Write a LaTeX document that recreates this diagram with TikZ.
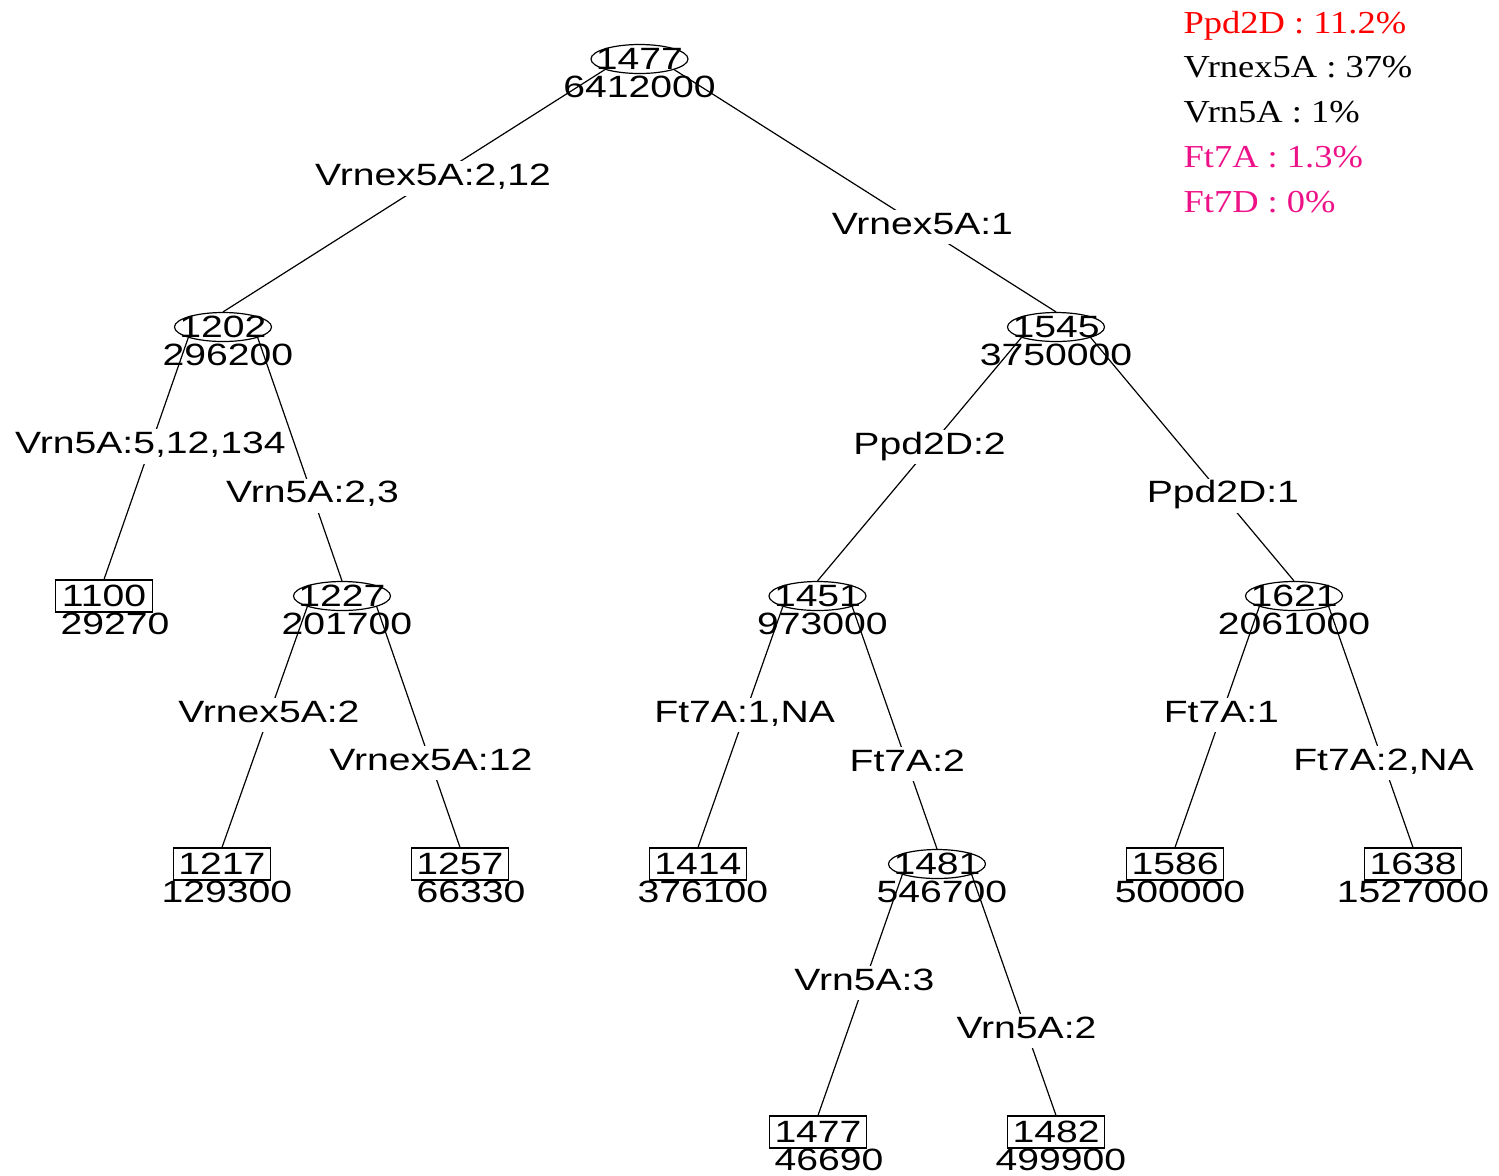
\documentclass[tikz,border=0pt]{standalone}
\usepackage{fontspec}
\usepackage{xcolor}
\usetikzlibrary{shapes.geometric}
\newfontfamily\treefont[FakeStretch=1.27]{Liberation Sans}
\newfontfamily\legfont[FakeStretch=1.14]{Liberation Serif}
\definecolor{cP}{HTML}{EE1289}
\tikzset{
  split/.style={draw,ellipse,minimum width=48.5pt,minimum height=14.5pt,inner sep=0},
  leaf/.style={draw,rectangle,minimum width=48.5pt,minimum height=16pt,inner sep=0},
  cnt/.style={yshift=-14pt,xshift=#1,inner sep=0},
  cnt/.default=0pt,
  cond/.style={fill=white,inner xsep=.5pt,inner ysep=5pt,text height=.72em,text depth=0pt},
  legend/.style={font=\legfont\fontsize{16}{19}\selectfont,inner sep=0,anchor=base west},
}

\begin{document}
\begin{tikzpicture}[x=.5pt,y=-.5pt,line width=.6pt,
    font=\treefont\fontsize{15.4}{18}\selectfont]
  \useasboundingbox (0,0) rectangle (1499,1175);
  % splits and leaves
  \node[split,label=center:1477,label={[cnt]center:6412000}] (n0) at (639.5,59) {};
  \node[split,label=center:1202,label={[cnt=2.5pt]center:296200}] (n1202) at (223,327) {};
  \node[split,label=center:1545,label={[cnt]center:3750000}] (n1545) at (1056,327) {};
  \node[leaf,label={[cnt=5.5pt]center:29270}] (n1100) at (104,596) {1100};
  \node[split,label=center:1227,label={[cnt=2.5pt]center:201700}] (n1227) at (342,596) {};
  \node[split,label=center:1451,label={[cnt=2.5pt]center:973000}] (n1451) at (817.5,596) {};
  \node[split,label=center:1621,label={[cnt]center:2061000}] (n1621) at (1294,596) {};
  \node[leaf,label={[cnt=2.5pt]center:129300}] (n1217) at (222,864) {1217};
  \node[leaf,label={[cnt=5.5pt]center:66330}] (n1257) at (460,864) {1257};
  \node[leaf,label={[cnt=2.5pt]center:376100}] (n1414) at (698,864) {1414};
  \node[split,label=center:1481,label={[cnt=2.5pt]center:546700}] (n1481) at (937,864) {};
  \node[leaf,label={[cnt=2.5pt]center:500000}] (n1586) at (1175,864) {1586};
  \node[leaf,label={[cnt]center:1527000}] (n1638) at (1413,864) {1638};
  \node[leaf,label={[cnt=5.5pt]center:46690}] (n1477) at (818,1132) {1477};
  \node[leaf,label={[cnt=2.5pt]center:499900}] (n1482) at (1056,1132) {1482};

  % branches
  \draw (n0.south west) -- node[cond,pos=.45]{Vrnex5A:2,12} (n1202.north);
  \draw (n0.south east) -- node[cond,pos=.65]{Vrnex5A:1} (n1545.north);
  \draw (n1202.south west) -- node[cond,pos=.45]{Vrn5A:5,12,134} (n1100.north);
  \draw (n1202.south east) -- node[cond,pos=.65]{Vrn5A:2,3} (n1227.north);
  \draw (n1227.south west) -- node[cond,pos=.45]{Vrnex5A:2} (n1217.north);
  \draw (n1227.south east) -- node[cond,pos=.65]{Vrnex5A:12} (n1257.north);
  \draw (n1545.south west) -- node[cond,pos=.45]{Ppd2D:2} (n1451.north);
  \draw (n1545.south east) -- node[cond,pos=.65]{Ppd2D:1} (n1621.north);
  \draw (n1451.south west) -- node[cond,pos=.45]{Ft7A:1,NA} (n1414.north);
  \draw (n1451.south east) -- node[cond,pos=.65]{Ft7A:2} (n1481.north);
  \draw (n1481.south west) -- node[cond,pos=.45]{Vrn5A:3} (n1477.north);
  \draw (n1481.south east) -- node[cond,pos=.65]{Vrn5A:2} (n1482.north);
  \draw (n1621.south west) -- node[cond,pos=.45]{Ft7A:1} (n1586.north);
  \draw (n1621.south east) -- node[cond,pos=.65]{Ft7A:2,NA} (n1638.north);

  % importance legend
  \foreach \t/\c [count=\i from 0] in {Ppd2D : 11.2\%/red,Vrnex5A : 37\%/black,
      Vrn5A : 1\%/black,Ft7A : 1.3\%/cP,Ft7D : 0\%/cP}
    \node[legend,text=\c] (leg\i) at (1183,{33+44.75*\i}) {\t};
\end{tikzpicture}
\end{document}
